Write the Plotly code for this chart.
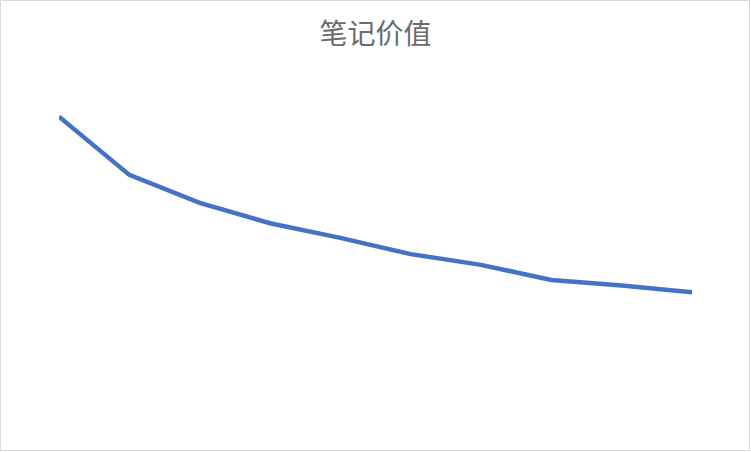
import plotly.graph_objects as go

# 笔记价值 over 10 steps (no axes shown in the original)
steps = [1, 2, 3, 4, 5, 6, 7, 8, 9, 10]
note_value = [101.1, 81.7, 72.4, 65.6, 60.7, 55.3, 51.7, 46.7, 44.8, 42.6]

W, H = 751, 452
ml, mr, mt, mb = 59, 59, 60, 32
pw, ph = W - ml - mr, H - mt - mb

fig = go.Figure(go.Scatter(x=steps, y=note_value, mode='lines',
                           line=dict(color='#4472C4', width=4.5),
                           hoverinfo='skip'))

fig.update_layout(
    width=W, height=H,
    margin=dict(l=ml, r=mr, t=mt, b=mb),
    paper_bgcolor='white', plot_bgcolor='white',
    showlegend=False,
    title=dict(text='笔记价值', x=0.5, xanchor='center', y=1 - 34 / H, yanchor='middle',
               font=dict(family='Noto Sans CJK SC', size=28, color='#6b6b6b')),
    xaxis=dict(range=[1, 10], visible=False, fixedrange=True),
    yaxis=dict(range=[0, 120], visible=False, fixedrange=True),
)

# light grey chart border
fig.add_shape(type='rect', xref='paper', yref='paper',
              x0=-(ml - 0.5) / pw, x1=1 + (mr - 1.5) / pw,
              y0=-(mb - 1.5) / ph, y1=1 + (mt - 0.5) / ph,
              line=dict(color='#D9D9D9', width=1), fillcolor='rgba(0,0,0,0)')

# drop the browser's default page margin so the chart sits at 0,0
fig.write_html("out.html", config={'displayModeBar': False},
               post_script="document.body.style.margin='0';")
